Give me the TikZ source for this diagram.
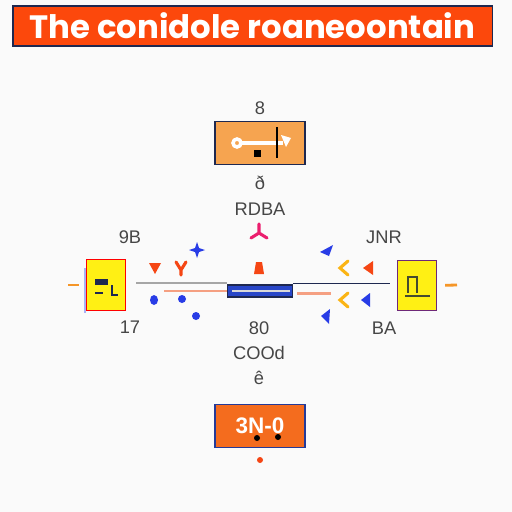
\documentclass[tikz,border=0pt]{standalone}
\usepackage{fontspec}
\setmainfont{Liberation Sans}
\newfontfamily\titlefont{Poppins}
\usetikzlibrary{positioning, arrows.meta}
\definecolor{bggray}{RGB}{250,250,250}
\definecolor{titlered}{RGB}{252,72,12}
\definecolor{navy}{RGB}{30,40,80}
\definecolor{boxorange}{RGB}{246,164,80}
\definecolor{deeporange}{RGB}{244,108,30}
\definecolor{boxyellow}{RGB}{255,240,20}
\definecolor{barblue}{RGB}{40,70,200}
\definecolor{markblue}{RGB}{40,60,230}
\definecolor{markred}{RGB}{245,70,20}
\definecolor{markgold}{RGB}{250,180,20}
\definecolor{markpink}{RGB}{235,30,110}
\definecolor{labelgray}{RGB}{70,70,70}
\definecolor{stuborange}{RGB}{245,150,40}
\definecolor{salmon}{RGB}{245,160,130}
\definecolor{purpleedge}{RGB}{110,40,120}

\begin{document}
\begin{tikzpicture}[
  x=0.025cm, y=-0.025cm,
  titlebox/.style={draw=navy, line width=0.8pt, fill=titlered, text=white, font=\titlefont\bfseries\fontsize{23}{26}\selectfont, minimum width=11.975cm, minimum height=1cm, inner sep=0pt},
  mainbox/.style={draw=navy, line width=0.9pt, minimum width=2.25cm, minimum height=1.06cm},
  sidebox/.style={fill=boxyellow, line width=1pt, minimum width=0.97cm, minimum height=1.26cm},
  lbl/.style={text=labelgray, font=\fontsize{13}{15}\selectfont, inner sep=0pt},
  stub/.style={stuborange, line width=2pt},
  markstroke/.style={line width=2.2pt, line cap=round},
]
% Background
\fill[bggray] (0,0) rectangle (512,512);
\useasboundingbox (0,0) rectangle (512,512);

% Title
\node[titlebox] (title) at (252.5,26) {The conidole roaneoontain};

% Boxes
\node[mainbox, fill=boxorange] (topbox) at (260,143) {};
\node[mainbox, fill=deeporange, draw=barblue!60!navy, text=white, font=\fontsize{16}{18}\selectfont\bfseries] (botbox) at (260,426) {3N-0};
\node[sidebox, draw=red] (lbox) at (106,285) {};
\node[sidebox, draw=purpleedge] (rbox) at (417,285.5) {};
\node[draw=navy, fill=barblue, line width=0.8pt, minimum width=1.625cm, minimum height=0.3cm, inner sep=0pt] (bar) at (260,291) {};

% Glyphs inside boxes
\draw[white, line width=2.5pt] (237,143) circle (4);
\draw[white, line width=3pt] (241,143) -- (283,143);
\fill[white] (281,135) -- (291,138) -- (286,147) -- cycle;
\draw[black, line width=1.5pt] (277,127) -- (277,158);
\fill[black] (254,150) rectangle (261,157);
\fill[black] (257,438) circle (3);
\fill[black] (278,437) circle (3);
\fill[navy] (95,279) rectangle (108,285);
\draw[navy, line width=1.2pt] (95,293) -- (103,293);
\draw[navy, line width=1.5pt] (112,285) -- (112,295) -- (118,295);
\draw[navy!60!olive, line width=1.2pt] (408,293) -- (408,277) -- (417,277) -- (417,293);
\draw[navy!60!olive, line width=1pt] (405,296) -- (430,296);
\draw[markblue!40, line width=1pt] (85,268) -- (85,313);
\draw[white!70!gray, line width=1pt] (232,291) -- (290,291);

% Labels
\node[lbl, above=0.15cm of topbox] (topnum) {8};
\node[lbl, below=0.27cm of topbox] (topsym) {ð};
\node[lbl, below=0.33cm of topsym] (topcode) {RDBA};
\node[lbl] (lefttop) at (130,237) {9B};
\node[lbl] (leftbot) at (130,327) {17};
\node[lbl] (righttop) at (384,237) {JNR};
\node[lbl] (rightbot) at (384,328) {BA};
\node[lbl] (midnum) at (259,328) {80};
\node[lbl, below=0.28cm of midnum] (midcode) {COOd};
\node[lbl, below=0.28cm of midcode] (midsym) {ê};

% Connectors
\coordinate (lstub) at (68,285);
\coordinate (rstub) at (457,285);
\draw[stub, shorten >=0.175cm] (lstub) -- (lbox.west);
\draw[stub, shorten <=0.2cm] (rbox.east) -- (rstub);
\draw[gray!70, line width=1pt, shorten <=0.25cm] ([yshift=0.05cm]lbox.east) -- ([yshift=0.05cm]lbox.east -| bar.west);
\draw[salmon, line width=1.2pt, shorten <=0.95cm] ([yshift=-0.15cm]lbox.east) -- ([yshift=-0.15cm]lbox.east -| bar.west);
\draw[navy, line width=1pt, shorten >=0.175cm] ([yshift=0.05cm]rbox.west -| bar.east) -- ([yshift=0.05cm]rbox.west);
\draw[salmon, line width=2pt, shorten <=0.1cm, shorten >=1.65cm] ([yshift=-0.2cm]rbox.west -| bar.east) -- ([yshift=-0.2cm]rbox.west);

% Markers
\fill[markred] (149,263) -- (161,263) -- (155,274) -- cycle;
\draw[markred, markstroke] (176,262) -- (181,270) -- (186,262) (181,270) -- (181,275);
\fill[markblue] (197,242) -- (199,248) -- (205,250) -- (199,252) -- (197,258) -- (195,252) -- (189,250) -- (195,248) -- cycle;
\draw[markpink, markstroke] (259,233) -- (259,224) (259,233) -- (251,238) (259,233) -- (267,238);
\fill[markred] (256,262) -- (262,262) -- (264,274) -- (254,274) -- cycle;
\fill[markblue] (320,252) -- (333,245) -- (329,256) -- cycle;
\draw[markgold, markstroke] (348,261) -- (340,268) -- (348,275);
\draw[markgold, markstroke] (348,293) -- (340,300) -- (348,307);
\fill[markred] (363,268) -- (373,261) -- (373,275) -- cycle;
\fill[markblue] (361,300) -- (370,293) -- (370,307) -- cycle;
\fill[markblue] (321,316) -- (330,309) -- (329,324) -- cycle;
\fill[markblue] (154,300) ellipse (4 and 5);
\fill[markblue] (182,299) circle (4);
\fill[markblue] (196,316) circle (4);
\fill[markred] (260,460) circle (3);
\end{tikzpicture}
\end{document}
